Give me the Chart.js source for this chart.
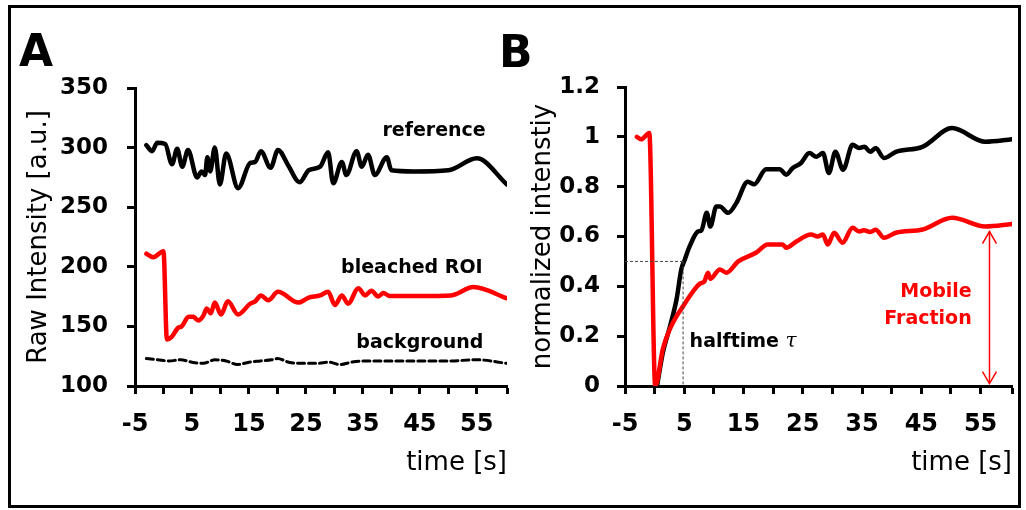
<!DOCTYPE html>
<html><head><meta charset="utf-8">
<script src="https://cdn.jsdelivr.net/npm/chart.js@4.4.1/dist/chart.umd.min.js"></script>
<style>
html,body{margin:0;padding:0;background:#fff;width:1026px;height:510px;overflow:hidden;}
#frame{position:absolute;left:8px;top:5px;width:1007px;height:497px;border:3px solid #000;pointer-events:none;}
.wrap{position:absolute;top:0;height:510px;}
#wa{left:0;width:515px;} #wb{left:515px;width:511px;}
.letter{position:absolute;font:bold 44px "DejaVu Sans";line-height:1;color:#000;}
</style></head><body>
<div class="wrap" id="wa"><canvas id="ca" width="515" height="510"></canvas></div>
<div class="wrap" id="wb"><canvas id="cb" width="511" height="510"></canvas></div>
<div class="letter" style="left:19px;top:29px">A</div>
<div class="letter" style="left:499px;top:30px">B</div>
<div id="frame"></div>
<script>
// ---------- Panel A data (time [s], raw intensity) ----------
const tRefA = [-3,-2,-1.1,0.3,1.5,2.4,3.3,4.3,5.9,6.7,7.3,7.7,8.2,9.0,9.9,11.0,13.1,15.2,16.1,17.1,18.8,20.1,21.9,23.9,25.5,27.5,28.9,29.8,31.3,32.1,33.9,34.8,35.9,37.1,39.2,40.0,44,50,55,60.3];
const refA  = [302,297,304,303,286,299,284,298,275,280,277,292,280,300,269,295,266,287,288,297,283,298,285,271,281,284,296,270,288,277,297,284,294,277,292,281,280,281,291,269];

const tRoiA = [-3,-1.8,0,0.6,1.4,2.6,3.2,4.4,5.2,6.1,7.0,7.6,8.3,9.0,10.1,11.3,13.1,15.2,16.1,17.1,18.4,20.1,23.7,25.4,27.5,28.9,30.1,31.3,32.4,34.2,35.4,36.5,37.7,38.6,39.7,45,50.5,54.4,60.3];
const roiA  = [211,208,213,139,141,149,150,158,158,155,159,165,161,170,160,171,160,169,171,176,172,179,170,174,176,179,168,176,169,182,176,180,175,178,175.5,175.5,176,183,173.5];

const tBgA = [-3,-1,1,3,5,7,9,11,13,15,17,19,20,22,24,27,29,31,33,35,38,42,46,50,55,60.3];
const bgA  = [123,122,121,122,120,119,122,121,118,120,121,122,123,120,119,119,120,118,120,121,121,121,121,121,122,119];

// ---------- Panel B data (time [s], normalized intensity) ----------
const tRefB = [0.4,1.4,2.6,3.7,4.5,5.1,5.9,7.3,7.9,8.8,9.4,10.4,11.0,12.4,13.8,15.7,16.8,18.8,21.1,22.2,23.3,24.7,26.1,27.3,28.4,29.4,30.5,31.8,33.4,34.5,35.4,36.4,37.3,38.7,40.7,45.2,50.2,55.8,60.3];
const refB  = [0,0.135,0.24,0.348,0.468,0.508,0.56,0.62,0.625,0.695,0.64,0.72,0.72,0.695,0.735,0.82,0.81,0.87,0.87,0.848,0.875,0.895,0.935,0.92,0.935,0.855,0.94,0.868,0.968,0.955,0.96,0.94,0.955,0.915,0.94,0.96,1.035,0.98,0.99];

const tRoiB = [-3,-2.3,-0.9,0.1,1.4,2.6,3.7,4.8,5.9,7.6,8.4,9.0,9.4,11.0,12.1,14.1,17.1,19.1,21.6,22.2,23.9,26.4,27.5,28.4,29.2,30.3,31.7,33.4,34.5,35.3,36.4,37.3,38.7,40.7,45.2,50.2,55.8,60.3];
const roiB  = [1.0,0.99,1.015,0,0.15,0.23,0.28,0.32,0.36,0.41,0.42,0.455,0.43,0.468,0.455,0.5,0.535,0.568,0.568,0.555,0.58,0.608,0.6,0.608,0.568,0.615,0.575,0.635,0.62,0.625,0.618,0.627,0.595,0.615,0.628,0.675,0.64,0.65];

const xTickLabels = [-5,5,15,25,35,45,55];
const halftime = 4.8;        // s, where recovery reaches 0.5
const halfLevel = 0.5;
const mobileAt = 56.5;       // s, position of mobile fraction arrow
const mobileTop = 0.62;

const pts = (t, v) => t.map((x, i) => ({x, y: v[i]}));

const annot = {
  id: 'annot',
  afterDatasetsDraw(chart, args, o) {
    const ctx = chart.ctx, xs = chart.scales.x, ys = chart.scales.y;
    ctx.save();
    (o.lines || []).forEach(l => {
      ctx.beginPath();
      ctx.strokeStyle = l.color; ctx.lineWidth = l.width; ctx.setLineDash(l.dash || []);
      ctx.moveTo(xs.getPixelForValue(l.x1), ys.getPixelForValue(l.y1));
      ctx.lineTo(xs.getPixelForValue(l.x2), ys.getPixelForValue(l.y2));
      ctx.stroke();
    });
    ctx.setLineDash([]);
    (o.arrows || []).forEach(a => {
      const x = xs.getPixelForValue(a.x), y1 = ys.getPixelForValue(a.y1), y2 = ys.getPixelForValue(a.y2);
      ctx.strokeStyle = a.color; ctx.lineWidth = a.width;
      ctx.beginPath(); ctx.moveTo(x, y1); ctx.lineTo(x, y2); ctx.stroke();
      ctx.beginPath();
      ctx.moveTo(x - 7, y1 + 12); ctx.lineTo(x, y1); ctx.lineTo(x + 7, y1 + 12);
      ctx.moveTo(x - 7, y2 - 12); ctx.lineTo(x, y2); ctx.lineTo(x + 7, y2 - 12);
      ctx.stroke();
    });
    (o.texts || []).forEach(t => {
      ctx.fillStyle = t.color; ctx.textBaseline = 'middle';
      let x = xs.getPixelForValue(t.x); const y = ys.getPixelForValue(t.y);
      if (t.parts) {
        ctx.textAlign = 'left';
        t.parts.forEach(p => { ctx.font = p.font; ctx.fillText(p.text, x, y); x += ctx.measureText(p.text).width; });
      } else {
        ctx.font = t.font; ctx.textAlign = t.align || 'center';
        ctx.fillText(t.text, x, y);
      }
    });
    ctx.restore();
  }
};

const tickFont = {family: 'DejaVu Sans', weight: 'bold', size: 23};
function xScale() {
  return {
    type: 'linear', min: -5, max: 60.3,
    ticks: {stepSize: 5, autoSkip: false, maxRotation: 0, minRotation: 0, padding: 16, color: '#000',
      font: {family: 'DejaVu Sans', weight: 'bold', size: 24},
      callback: v => xTickLabels.some(k => Math.abs(k - v) < 1e-6) ? String(v) : ''},
    grid: {display: true, drawOnChartArea: false, drawTicks: true, tickLength: 8, tickWidth: 3, color: '#000'},
    border: {display: true, width: 3, color: '#000'},
    title: {display: true, text: 'time [s]', align: 'end', color: '#000', font: {family: 'DejaVu Sans', size: 26}, padding: {top: 0, bottom: 31}},
    afterFit: s => { s.height = 124; s.paddingRight = 0; s.paddingLeft = 0; }
  };
}
function yScale(min, max, step, title, titlePad, width, labPad, fmt) {
  return {
    type: 'linear', min, max,
    ticks: {stepSize: step, padding: labPad, color: '#000', font: tickFont, callback: fmt},
    grid: {display: true, drawOnChartArea: false, drawTicks: true, tickLength: 8, tickWidth: 3, color: '#000'},
    border: {display: true, width: 3, color: '#000'},
    title: {display: true, text: title, color: '#000', font: {family: 'DejaVu Sans', size: 26}, padding: {top: titlePad, bottom: 0}},
    afterFit: s => { s.width = width; }
  };
}
const lineDs = (data, color, dash) => ({
  data, borderColor: color, borderWidth: dash ? 3 : 4.5, borderDash: dash || [], pointRadius: 0,
  cubicInterpolationMode: 'monotone', fill: false, borderCapStyle: 'round', borderJoinStyle: 'round'
});
const bold19 = 'bold 19px "DejaVu Sans"';

new Chart(document.getElementById('ca'), {
  type: 'line',
  data: {datasets: [
    lineDs(pts(tBgA, bgA), '#000', [7, 4]),
    lineDs(pts(tRoiA, roiA), '#ff0000'),
    lineDs(pts(tRefA, refA), '#000')
  ]},
  options: {
    responsive: false, animation: false, events: [],
    layout: {padding: {left: 0, right: 8, top: 88, bottom: 0}},
    plugins: {legend: {display: false}, tooltip: {enabled: false},
      annot: {texts: [
        {text: 'reference', x: 47.5, y: 314, font: bold19, color: '#000'},
        {text: 'bleached ROI', x: 43.6, y: 199, font: bold19, color: '#000'},
        {text: 'background', x: 45, y: 136, font: bold19, color: '#000'}
      ]}},
    scales: {x: xScale(), y: yScale(100, 350, 50, 'Raw Intensity [a.u.]', 24, 135, 19, v => String(v))}
  },
  plugins: [annot]
});

new Chart(document.getElementById('cb'), {
  type: 'line',
  data: {datasets: [
    lineDs(pts(tRoiB, roiB), '#ff0000'),
    lineDs(pts(tRefB, refB), '#000')
  ]},
  options: {
    responsive: false, animation: false, events: [],
    layout: {padding: {left: 0, right: 14, top: 87, bottom: 0}},
    plugins: {legend: {display: false}, tooltip: {enabled: false},
      annot: {
        lines: [
          {x1: -5, y1: halfLevel, x2: halftime, y2: halfLevel, color: '#444', width: 1, dash: [3, 2]},
          {x1: halftime, y1: halfLevel, x2: halftime, y2: 0, color: '#444', width: 1, dash: [3, 2]}
        ],
        arrows: [{x: mobileAt, y1: mobileTop, y2: 0.01, color: '#ff0000', width: 1.5}],
        texts: [
          {x: 5.9, y: 0.176, color: '#000', parts: [{text: 'halftime ', font: bold19}, {text: 'τ', font: 'italic 20px "DejaVu Serif"'}]},
          {text: 'Mobile', x: 53.5, y: 0.376, font: bold19, color: '#ff0000', align: 'right'},
          {text: 'Fraction', x: 53.5, y: 0.268, font: bold19, color: '#ff0000', align: 'right'}
        ]
      }},
    scales: {x: xScale(), y: yScale(0, 1.2, 0.2, 'normalized intenstiy', 13, 110, 17, v => String(+v.toFixed(1)))}
  },
  plugins: [annot]
});
</script>
</body></html>
